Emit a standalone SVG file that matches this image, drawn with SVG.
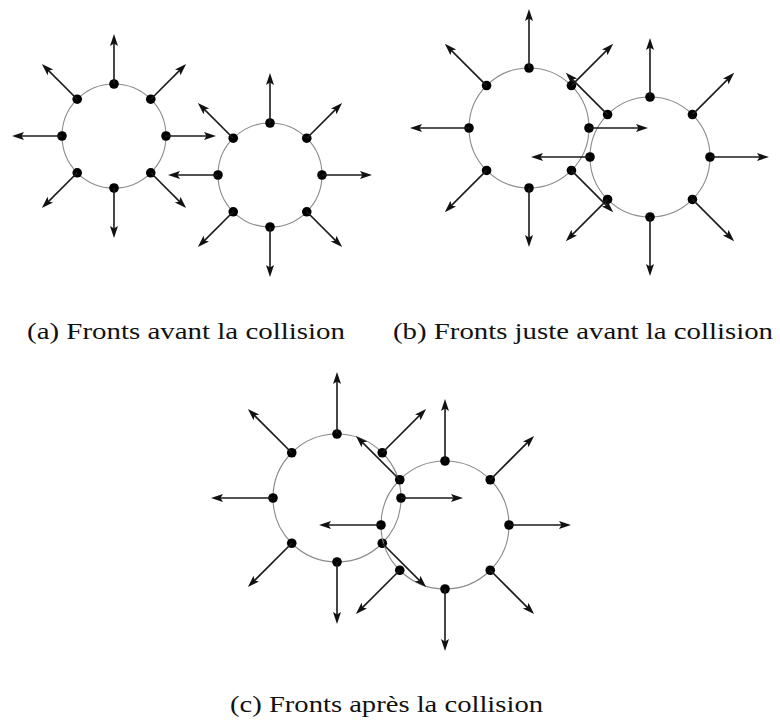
<svg xmlns="http://www.w3.org/2000/svg" width="780" height="723" viewBox="0 0 780 723">
<style>
.front{fill:none;stroke:#8a8a8a;stroke-width:1.1}
.dot{fill:#000}
.arr{stroke:#1a1a1a;stroke-width:1.6;fill:none;marker-end:url(#ah)}
.cap{font-family:"Liberation Serif","DejaVu Serif",serif;font-size:23px;fill:#111}
</style>
<defs>
<marker id="ah" markerWidth="13" markerHeight="9" refX="6" refY="4" orient="auto" markerUnits="userSpaceOnUse">
<path d="M0,0 L12,4 L0,8 L2.5,4 z" fill="#111"/>
</marker>
</defs>
<rect width="780" height="723" fill="#fff"/>

<!-- Panel (a) -->
<g id="a-front1">
<circle class="front" cx="114" cy="136" r="52"/>
<g class="dot">
<circle cx="166" cy="136" r="4.8"/><circle cx="150.77" cy="99.23" r="4.8"/><circle cx="114" cy="84" r="4.8"/><circle cx="77.23" cy="99.23" r="4.8"/>
<circle cx="62" cy="136" r="4.8"/><circle cx="77.23" cy="172.77" r="4.8"/><circle cx="114" cy="188" r="4.8"/><circle cx="150.77" cy="172.77" r="4.8"/>
</g>
</g>
<g id="a-front2">
<circle class="front" cx="270" cy="175" r="52"/>
<g class="dot">
<circle cx="322" cy="175" r="4.8"/><circle cx="306.77" cy="138.23" r="4.8"/><circle cx="270" cy="123" r="4.8"/><circle cx="233.23" cy="138.23" r="4.8"/>
<circle cx="218" cy="175" r="4.8"/><circle cx="233.23" cy="211.77" r="4.8"/><circle cx="270" cy="227" r="4.8"/><circle cx="306.77" cy="211.77" r="4.8"/>
</g>
</g>

<!-- Panel (b) -->
<g id="b-front1">
<circle class="front" cx="529" cy="128" r="60"/>
<g class="dot">
<circle cx="589" cy="128" r="4.8"/><circle cx="571.43" cy="85.57" r="4.8"/><circle cx="529" cy="68" r="4.8"/><circle cx="486.57" cy="85.57" r="4.8"/>
<circle cx="469" cy="128" r="4.8"/><circle cx="486.57" cy="170.43" r="4.8"/><circle cx="529" cy="188" r="4.8"/><circle cx="571.43" cy="170.43" r="4.8"/>
</g>
</g>
<g id="b-front2">
<circle class="front" cx="650" cy="157" r="60"/>
<g class="dot">
<circle cx="710" cy="157" r="4.8"/><circle cx="692.43" cy="114.57" r="4.8"/><circle cx="650" cy="97" r="4.8"/><circle cx="607.57" cy="114.57" r="4.8"/>
<circle cx="590" cy="157" r="4.8"/><circle cx="607.57" cy="199.43" r="4.8"/><circle cx="650" cy="217" r="4.8"/><circle cx="692.43" cy="199.43" r="4.8"/>
</g>
</g>

<!-- Panel (c) -->
<g id="c-front1">
<circle class="front" cx="337" cy="498" r="64"/>
<g class="dot">
<circle cx="401" cy="498" r="4.8"/><circle cx="382.25" cy="452.75" r="4.8"/><circle cx="337" cy="434" r="4.8"/><circle cx="291.75" cy="452.75" r="4.8"/>
<circle cx="273" cy="498" r="4.8"/><circle cx="291.75" cy="543.25" r="4.8"/><circle cx="337" cy="562" r="4.8"/><circle cx="382.25" cy="543.25" r="4.8"/>
</g>
</g>
<g id="c-front2">
<circle class="front" cx="445" cy="525" r="64"/>
<g class="dot">
<circle cx="509" cy="525" r="4.8"/><circle cx="490.25" cy="479.75" r="4.8"/><circle cx="445" cy="461" r="4.8"/><circle cx="399.75" cy="479.75" r="4.8"/>
<circle cx="381" cy="525" r="4.8"/><circle cx="399.75" cy="570.25" r="4.8"/><circle cx="445" cy="589" r="4.8"/><circle cx="490.25" cy="570.25" r="4.8"/>
</g>
</g>

<g id="connectors">
<!-- (a) front 1 -->
<line class="arr" x1="166" y1="136" x2="210" y2="136"/>
<line class="arr" x1="150.77" y1="99.23" x2="181.88" y2="68.12"/>
<line class="arr" x1="114" y1="84" x2="114" y2="40"/>
<line class="arr" x1="77.23" y1="99.23" x2="46.12" y2="68.12"/>
<line class="arr" x1="62" y1="136" x2="18" y2="136"/>
<line class="arr" x1="77.23" y1="172.77" x2="46.12" y2="203.88"/>
<line class="arr" x1="114" y1="188" x2="114" y2="232"/>
<line class="arr" x1="150.77" y1="172.77" x2="181.88" y2="203.88"/>
<!-- (a) front 2 -->
<line class="arr" x1="322" y1="175" x2="366" y2="175"/>
<line class="arr" x1="306.77" y1="138.23" x2="337.88" y2="107.12"/>
<line class="arr" x1="270" y1="123" x2="270" y2="79"/>
<line class="arr" x1="233.23" y1="138.23" x2="202.12" y2="107.12"/>
<line class="arr" x1="218" y1="175" x2="174" y2="175"/>
<line class="arr" x1="233.23" y1="211.77" x2="202.12" y2="242.88"/>
<line class="arr" x1="270" y1="227" x2="270" y2="271"/>
<line class="arr" x1="306.77" y1="211.77" x2="337.88" y2="242.88"/>
<!-- (b) front 1 -->
<line class="arr" x1="589" y1="128" x2="642" y2="128"/>
<line class="arr" x1="571.43" y1="85.57" x2="608.91" y2="48.09"/>
<line class="arr" x1="529" y1="68" x2="529" y2="15"/>
<line class="arr" x1="486.57" y1="85.57" x2="449.09" y2="48.09"/>
<line class="arr" x1="469" y1="128" x2="416" y2="128"/>
<line class="arr" x1="486.57" y1="170.43" x2="449.09" y2="207.91"/>
<line class="arr" x1="529" y1="188" x2="529" y2="241"/>
<line class="arr" x1="571.43" y1="170.43" x2="608.91" y2="207.91"/>
<!-- (b) front 2 -->
<line class="arr" x1="710" y1="157" x2="763" y2="157"/>
<line class="arr" x1="692.43" y1="114.57" x2="729.91" y2="77.09"/>
<line class="arr" x1="650" y1="97" x2="650" y2="44"/>
<line class="arr" x1="607.57" y1="114.57" x2="570.09" y2="77.09"/>
<line class="arr" x1="590" y1="157" x2="537" y2="157"/>
<line class="arr" x1="607.57" y1="199.43" x2="570.09" y2="236.91"/>
<line class="arr" x1="650" y1="217" x2="650" y2="270"/>
<line class="arr" x1="692.43" y1="199.43" x2="729.91" y2="236.91"/>
<!-- (c) front 1 -->
<line class="arr" x1="401" y1="498" x2="457" y2="498"/>
<line class="arr" x1="382.25" y1="452.75" x2="421.85" y2="413.15"/>
<line class="arr" x1="337" y1="434" x2="337" y2="378"/>
<line class="arr" x1="291.75" y1="452.75" x2="252.15" y2="413.15"/>
<line class="arr" x1="273" y1="498" x2="217" y2="498"/>
<line class="arr" x1="291.75" y1="543.25" x2="252.15" y2="582.85"/>
<line class="arr" x1="337" y1="562" x2="337" y2="618"/>
<line class="arr" x1="382.25" y1="543.25" x2="421.85" y2="582.85"/>
<!-- (c) front 2 -->
<line class="arr" x1="509" y1="525" x2="565" y2="525"/>
<line class="arr" x1="490.25" y1="479.75" x2="529.85" y2="440.15"/>
<line class="arr" x1="445" y1="461" x2="445" y2="405"/>
<line class="arr" x1="399.75" y1="479.75" x2="360.15" y2="440.15"/>
<line class="arr" x1="381" y1="525" x2="325" y2="525"/>
<line class="arr" x1="399.75" y1="570.25" x2="360.15" y2="609.85"/>
<line class="arr" x1="445" y1="589" x2="445" y2="645"/>
<line class="arr" x1="490.25" y1="570.25" x2="529.85" y2="609.85"/>
</g>

<g id="captions">
<text class="cap" x="27" y="339" textLength="318" lengthAdjust="spacingAndGlyphs">(a) Fronts avant la collision</text>
<text class="cap" x="393" y="339" textLength="380" lengthAdjust="spacingAndGlyphs">(b) Fronts juste avant la collision</text>
<text class="cap" x="230" y="712" textLength="313" lengthAdjust="spacingAndGlyphs">(c) Fronts après la collision</text>
</g>
</svg>
